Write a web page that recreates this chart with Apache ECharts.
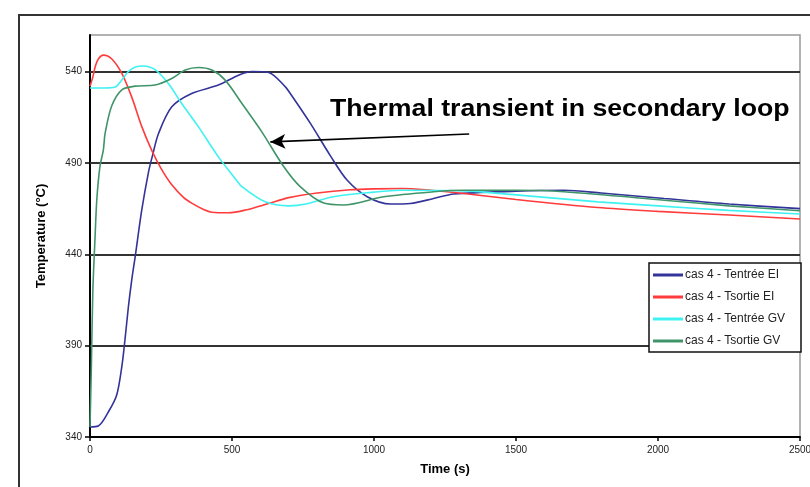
<!DOCTYPE html>
<html>
<head>
<meta charset="utf-8">
<script src="https://cdn.jsdelivr.net/npm/echarts@6/dist/echarts.min.js"></script>
<style>
html,body{margin:0;padding:0;background:#fff;}
#chart{width:810px;height:487px;}
</style>
</head>
<body>
<div id="chart"></div>
<script>
// ---- data ----
const seriesNames = ['cas 4 - Tentrée EI', 'cas 4 - Tsortie EI', 'cas 4 - Tentrée GV', 'cas 4 - Tsortie GV'];
const xTicks = [0, 500, 1000, 1500, 2000, 2500];
const yTicks = [340, 390, 440, 490, 540];

const tBlue = [0, 29, 65, 94, 112, 123, 135, 147, 159, 182, 206, 220, 241, 288, 358, 452, 523, 570, 629, 688, 705, 776, 846, 905, 976, 1058, 1128, 1210, 1281, 1500, 1669, 1800, 2022, 2250, 2500];
const vBlue = [345.5, 346, 353.8, 363, 378.5, 393, 411, 426, 438.6, 464, 485, 494, 506, 520.7, 528, 532.6, 538, 540, 539.5, 531.6, 528, 511.6, 494, 480.6, 471.5, 467.5, 467.8, 470.5, 473, 474.5, 475, 473.5, 470.5, 467.5, 465];

const tRed = [0, 10, 18, 30, 47, 76, 112, 147, 182, 217, 250, 288, 330, 358, 400, 429, 488, 547, 629, 700, 800, 917, 1000, 1100, 1200, 1316, 1500, 1788, 2000, 2250, 2500];
const vRed = [532, 537, 542.5, 547, 549, 547, 539, 526, 510, 497, 487, 478, 471, 468, 464.5, 463, 462.7, 464.2, 467.8, 471, 473.5, 475.3, 475.8, 476, 475, 473.3, 470, 465.6, 463.5, 461.5, 459.3];

const tCyan = [0, 50, 88, 110, 135, 160, 188, 229, 276, 323, 382, 452, 511, 535, 617, 700, 760, 857, 1000, 1093, 1316, 1500, 1788, 2000, 2250, 2500];
const vCyan = [531, 531, 531.5, 535, 540, 542.5, 543, 541, 533.4, 522.5, 509.7, 493.3, 481.5, 477, 468.7, 466.5, 467.5, 471.5, 474, 475, 474.7, 472.5, 468.7, 466.5, 464, 462];

const tGreen = [0, 5, 10, 18, 24, 35, 47, 53, 76, 112, 159, 229, 288, 335, 382, 429, 476, 535, 605, 682, 740, 823, 893, 1034, 1210, 1316, 1500, 1669, 2022, 2250, 2500];
const vGreen = [345.5, 380, 420, 450, 470, 488, 497, 506, 521, 530, 532, 532.6, 536.2, 540.8, 542.2, 540.8, 535.3, 522.5, 507, 488, 477, 468, 467, 471.5, 474.2, 475, 475, 474.2, 469.6, 466.5, 463.8];

const gridValues = [390, 440, 490, 540];
const annotationText = 'Thermal transient in secondary loop';
const arrowTip = [635, 501.5];
const arrowTail = [1335, 505.8];

// ---- build ----
const pairs = (t, v) => t.map((x, i) => [x, v[i]]);
const colors = ['#33339a', '#ff3b3b', '#3ef2f2', '#3f9569'];
const dataSets = [pairs(tBlue, vBlue), pairs(tRed, vRed), pairs(tCyan, vCyan), pairs(tGreen, vGreen)];

const FONT = 'Liberation Sans, Arial, sans-serif';

const series = dataSets.map((d, i) => ({
  name: seriesNames[i],
  type: 'line',
  data: d,
  showSymbol: false,
  symbol: 'none',
  smooth: 0.3,
  lineStyle: { color: colors[i], width: 1.6 },
  itemStyle: { color: colors[i] },
  z: 3
}));

series[0].markLine = {
  silent: true,
  symbol: ['none', 'none'],
  label: { show: false },
  lineStyle: { color: '#333', width: 2, type: 'solid' },
  z: 1,
  data: gridValues.map(v => ({ yAxis: v }))
};
series[1].markLine = {
  silent: true,
  symbol: ['arrow', 'none'],
  symbolSize: [11, 15],
  label: { show: false },
  lineStyle: { color: '#000', width: 1.6, type: 'solid' },
  data: [[{ coord: arrowTip }, { coord: arrowTail }]]
};

const chart = echarts.init(document.getElementById('chart'), null, { renderer: 'canvas' });
chart.setOption({
  animation: false,
  backgroundColor: '#fff',
  textStyle: { fontFamily: FONT },
  graphic: [{
    type: 'rect',
    shape: { x: 19, y: 15, width: 820, height: 500 },
    style: { fill: 'none', stroke: '#333', lineWidth: 2 },
    silent: true, z: 100
  }, {
    type: 'text',
    x: 330, y: 98,
    scaleX: 1.16,
    silent: true,
    style: { text: annotationText, font: 'bold 23px Liberation Sans, Arial, sans-serif', fill: '#000' }
  }],
  legend: {
    orient: 'vertical',
    left: 649, top: 263,
    padding: [6, 6, 5, 4],
    itemGap: 10,
    itemWidth: 30,
    itemHeight: 3,
    icon: 'rect',
    backgroundColor: '#fff',
    borderColor: '#111',
    borderWidth: 1.5,
    borderRadius: 0,
    textStyle: { fontFamily: FONT, fontSize: 12, color: '#222', padding: [0, 0, 0, -3], lineHeight: 12, width: 110 },
    data: seriesNames
  },
  grid: {
    left: 90, right: 10, top: 35, bottom: 50,
    outerBoundsMode: 'none',
    containLabel: false,
    show: true, borderColor: '#999', borderWidth: 1.5, backgroundColor: 'transparent'
  },
  xAxis: {
    type: 'value',
    min: 0, max: 2500, interval: 500,
    name: 'Time (s)',
    nameLocation: 'middle',
    nameGap: 26,
    nameTextStyle: { fontFamily: FONT, fontSize: 13, fontWeight: 'bold', color: '#000' },
    axisLine: { show: true, onZero: false, lineStyle: { color: '#000', width: 2 } },
    axisTick: { show: true, length: 4, lineStyle: { color: '#000', width: 1.5 } },
    axisLabel: { fontFamily: FONT, fontSize: 10, color: '#222', margin: 8, formatter: v => String(v) },
    splitLine: { show: false }
  },
  yAxis: {
    type: 'value',
    min: 340, max: 560,
    name: 'Temperature (°C)',
    nameLocation: 'middle',
    nameGap: 42,
    nameRotate: 90,
    nameTextStyle: { fontFamily: FONT, fontSize: 13, fontWeight: 'bold', color: '#000' },
    axisLine: { show: true, onZero: false, lineStyle: { color: '#000', width: 2 } },
    axisTick: { show: true, length: 5, customValues: yTicks, lineStyle: { color: '#000', width: 1.5 } },
    axisLabel: { fontFamily: FONT, fontSize: 10, color: '#222', margin: 8, customValues: yTicks },
    splitLine: { show: false }
  },
  series: series
});
</script>
</body>
</html>
